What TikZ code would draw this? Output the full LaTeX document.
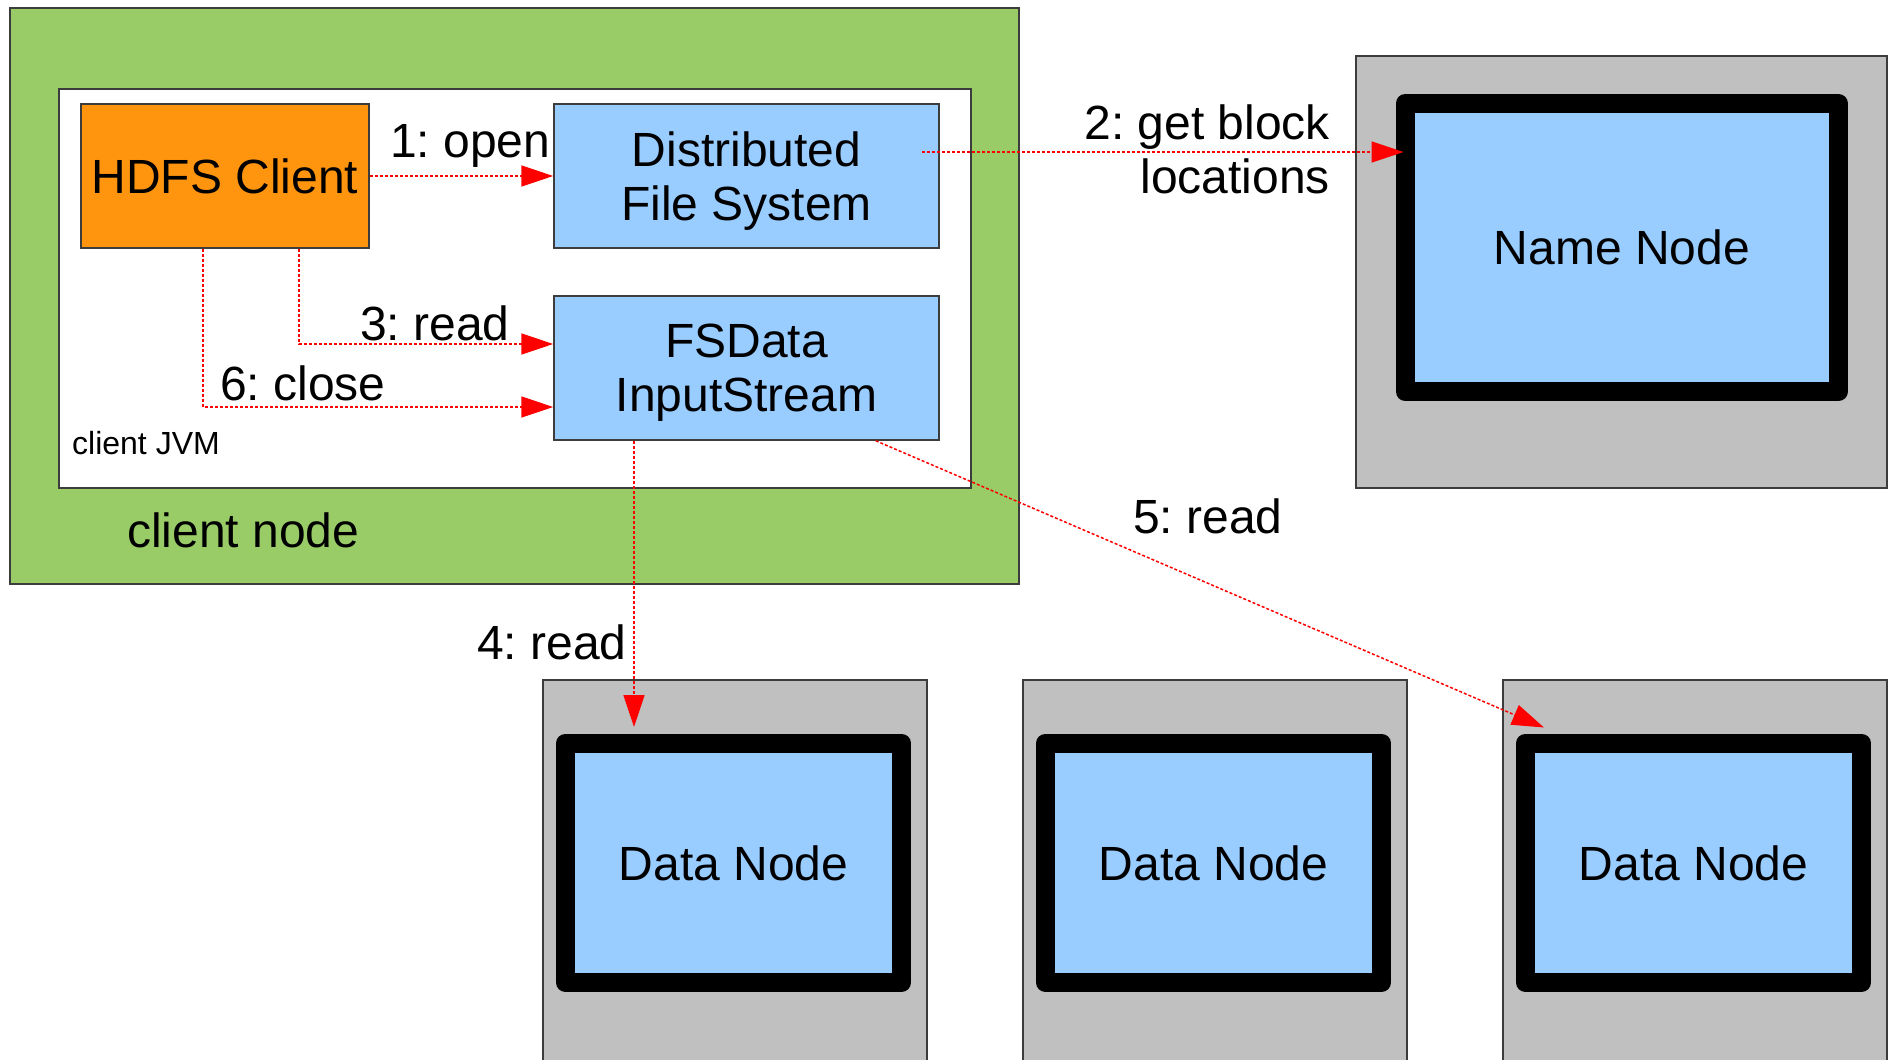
\documentclass[tikz,border=0pt]{standalone}
\usepackage{fontspec}
\setmainfont{Liberation Sans}
\usetikzlibrary{arrows.meta,calc}
\definecolor{cgreen}{HTML}{99CC66}
\definecolor{corange}{HTML}{FF950E}
\definecolor{cblue}{HTML}{99CCFF}
\definecolor{cgray}{HTML}{C0C0C0}
\definecolor{cedge}{HTML}{3C3C3C}
\frenchspacing
\begin{document}
\begin{tikzpicture}[x=1pt,y=-1pt,
  big/.style={font=\fontsize{48}{54}\selectfont},
  box/.style={draw=cedge, line width=1.5pt, inner sep=0pt, rectangle},
  lbl/.style={big, inner sep=0pt, anchor=base west},
  nframe/.style={draw=black, fill=cblue, line width=19pt, line join=round, inner sep=0pt, big, text depth=0pt},
  srv/.style={draw=cedge, fill=cgray, line width=1.2pt, inner sep=0pt, minimum width=384pt, minimum height=400pt},
  msg/.style={draw=red, line width=1.5pt, dash pattern=on 3pt off 2pt, -{Triangle[length=32pt,width=21pt]}}]
\useasboundingbox (0,0) rectangle (1888,1060);
\clip (0,0) rectangle (1888,1060);
\fill[white] (0,0) rectangle (1888,1060);

% client node and JVM
\node[box, fill=cgreen, minimum width=1009pt, minimum height=576pt] (client) at (514.5,296) {};
\node[box, fill=white, minimum width=912pt, minimum height=399pt] (jvm) at (515,288.5) {};
\node[box, fill=corange, big, text depth=0pt, minimum width=288pt, minimum height=144pt] (hdfs) at (225,176) {HDFS Client};
\node[box, fill=cblue, big, align=center, text depth=0pt, minimum width=385pt, minimum height=144pt] (dfs) at (746.5,176) {Distributed\\File System};
\node[box, fill=cblue, big, align=center, text depth=0pt, minimum width=385pt, minimum height=144pt] (fsd) at (746.5,368) {FSData\\InputStream};
\node[inner sep=0pt, anchor=base west, font=\fontsize{32}{36}\selectfont] (jvmlbl) at (72,454) {client JVM};
\node[lbl] (clientlbl) at (127,547) {client node};

% name node
\node[srv, minimum width=531pt, minimum height=432pt] (nng) at (1621.5,272) {};
\node[nframe, minimum width=433.5pt, minimum height=288pt] (nnf) at (1621.75,247.5) {Name Node};

% data nodes
\node[srv] (g1) at (735,880) {};
\node[srv] (g2) at (1215,880) {};
\node[srv] (g3) at (1695,880) {};
\node[nframe, minimum width=336pt, minimum height=239.5pt] (f1) at (733.5,862.75) {Data Node};
\node[nframe, minimum width=336pt, minimum height=239.5pt] (f2) at (1213.5,862.75) {Data Node};
\node[nframe, minimum width=336pt, minimum height=239.5pt] (f3) at (1693.5,862.75) {Data Node};

% connectors
\draw[msg] (hdfs.east) -- (dfs.west);
\coordinate (s2) at (922,152);
\draw[msg] (s2) -- ($(s2 -| nnf.west)+(8,0)$);
\draw[msg] ($(hdfs.south)+(74,0)$) |- ($(fsd.west)+(0,-24)$);
\draw[msg] ($(hdfs.south)+(-22,0)$) |- ($(fsd.west)+(0,39)$);
\coordinate (s4) at ($(fsd.south)+(-112.5,0)$);
\draw[msg] (s4) -- ($(s4 |- f1.north)+(0,-6.5)$);
\draw[msg] ($(fsd.south east)+(-64,0)$) -- ($(f3.north west)+(28,-6)$);

% labels
\node[lbl] (l1) at (390,157) {1: open};
\node[big, inner sep=0pt, align=right, text depth=0pt, anchor=east] (l2) at (1330,149.5) {2: get block\\locations};
\node[lbl] (l3) at (360,340) {3: read};
\node[lbl] (l4) at (477,659) {4: read};
\node[lbl] (l5) at (1133,533) {5: read};
\node[lbl] (l6) at (220,400) {6: close};
\end{tikzpicture}
\end{document}
